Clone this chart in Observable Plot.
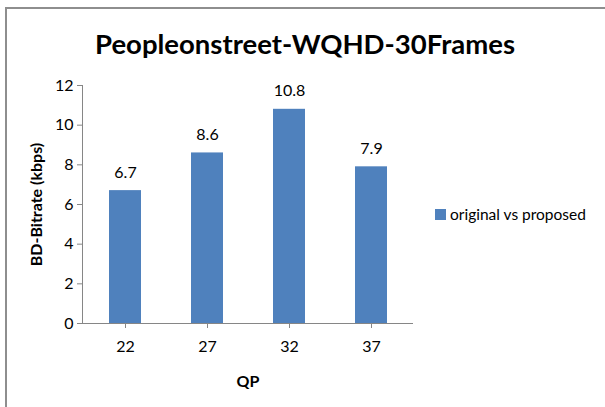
<!DOCTYPE html>
<html>
<head>
<meta charset="utf-8">
<script src="https://cdn.jsdelivr.net/npm/d3@7"></script>
<script src="https://cdn.jsdelivr.net/npm/@observablehq/plot@0.6"></script>
<style>
  body { margin: 0; background: #fff; }
  #wrap { position: relative; width: 605px; height: 407px; overflow: hidden; font-family: Lato, "Open Sans", sans-serif; }
  #frame { position: absolute; left: 5px; top: 7px; width: 620px; height: 420px; border: 2px solid #8e8e8e; box-sizing: border-box; }
  #title { position: absolute; left: 0; top: 27px; width: 610px; text-align: center; font-size: 27.5px; font-weight: bold; color: #000; }
  #plot { position: absolute; left: 0; top: 0; }
  #legend { position: absolute; left: 435px; top: 205px; font-size: 15.5px; color: #000; display: flex; align-items: center; }
  #legend .sw { width: 11px; height: 11px; background: #4F81BD; margin-right: 4px; }
</style>
</head>
<body>
<div id="wrap">
  <div id="frame"></div>
  <div id="plot"></div>
  <div id="title">Peopleonstreet-WQHD-30Frames</div>
  <div id="legend"><span class="sw"></span><span>original vs proposed</span></div>
</div>
<script>
const categories = ["22", "27", "32", "37"];
const values = [6.7, 8.6, 10.8, 7.9];
const yTicks = [0, 2, 4, 6, 8, 10, 12];
const seriesName = "original vs proposed";

const data = categories.map((c, i) => ({qp: c, v: values[i]}));

const chart = Plot.plot({
  width: 605,
  height: 407,
  marginLeft: 82,
  marginRight: 192,
  marginTop: 85,
  marginBottom: 84,
  style: {fontFamily: "Lato, 'Open Sans', sans-serif", fontSize: "16px", color: "#000", background: "transparent"},
  x: {domain: categories, paddingInner: 0.613, paddingOuter: 0.3065},
  y: {domain: [0, 12]},
  marks: [
    Plot.barY(data, {x: "qp", y: "v", fill: "#4F81BD"}),
    Plot.text(data, {x: "qp", y: "v", text: d => d.v.toFixed(1), dy: -18, fontSize: 16, fill: "#000"}),
    Plot.ruleY([0], {stroke: "#868686", strokeWidth: 1}),
    Plot.axisY({ticks: yTicks, tickSize: 5, tickPadding: 4, stroke: "#868686", label: "BD-Bitrate (kbps)", labelAnchor: "center", labelArrow: "none", labelOffset: 52, fontSize: 16, tickFormat: d => String(d)}),
    Plot.axisX({tickSize: 5, tickPadding: 12, stroke: "#868686", label: "QP", labelAnchor: "center", labelArrow: "none", labelOffset: 63, fontSize: 16}),
    Plot.frame({anchor: "left", stroke: "#868686"})
  ]
});
document.getElementById("plot").appendChild(chart);
chart.querySelectorAll("g[aria-label='y-axis label'] text, g[aria-label='x-axis label'] text").forEach(t => t.setAttribute("font-weight", "bold"));
</script>
</body>
</html>
